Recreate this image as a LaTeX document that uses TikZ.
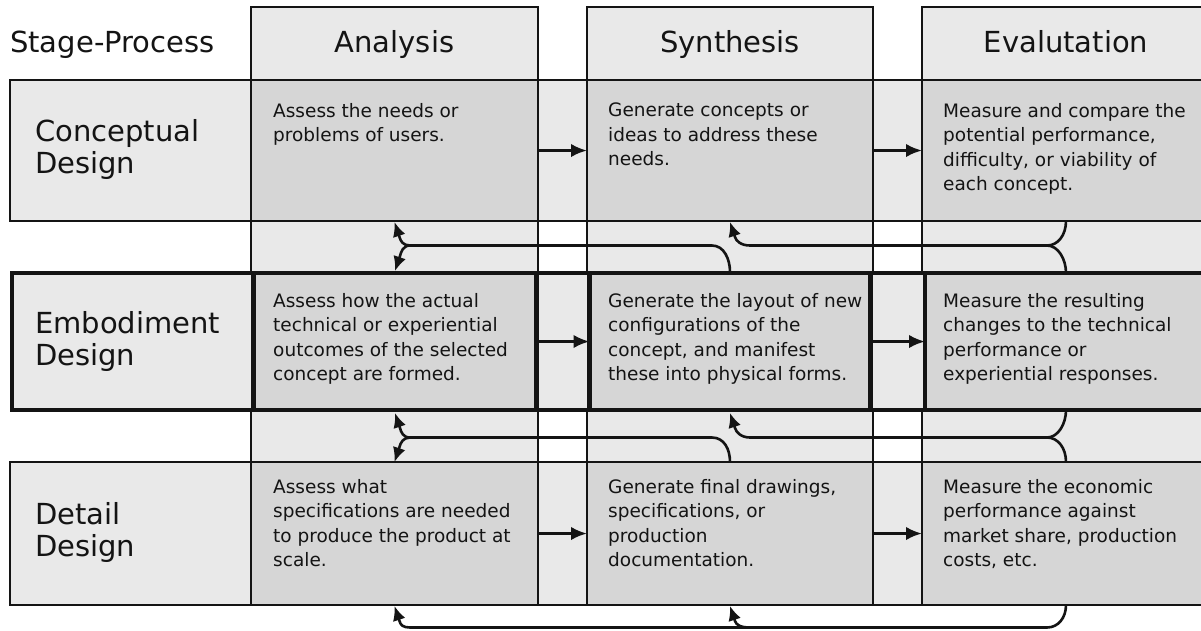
\documentclass[tikz,border=0pt]{standalone}
\usepackage{fontspec}
\setmainfont{DejaVu Sans}
\usetikzlibrary{arrows.meta,calc}
\definecolor{lg}{HTML}{E9E9E9}
\definecolor{cg}{HTML}{D6D6D6}
\definecolor{ink}{HTML}{141414}
\begin{document}
\begin{tikzpicture}[x=1pt,y=-1pt,
  thinline/.style={line width=1.5pt, draw=ink},
  colbox/.style={thinline, fill=lg, anchor=north west, inner sep=0, outer sep=0, minimum height=598},
  rowbox/.style={thinline, fill=lg, anchor=north west, inner sep=0, outer sep=0, minimum width=1200},
  cellbox/.style={thinline, fill=cg, anchor=north west, inner sep=0, outer sep=0},
  celltext/.style={anchor=north west, inner sep=0, align=left, text=ink, font=\fontsize{18.5}{24.5}\selectfont},
  head/.style={inner sep=0, text=ink, font=\fontsize{29}{32}\selectfont},
  flow/.style={line width=2.8pt, draw=ink, -{Latex[length=16pt,width=13.5pt]}},
  flowc/.style={line width=2.6pt, draw=ink, line join=round, -{Latex[length=14.5pt,width=13pt]}},
  link/.style={line width=2.6pt, draw=ink},
]
\useasboundingbox (0,0) rectangle (1201,630);
\clip (0,0) rectangle (1201,630);
\fill[white] (0,0) rectangle (1201,630);

% columns
\node[colbox, minimum width=287] (colA) at (251,7) {};
\node[colbox, minimum width=286] (colS) at (587,7) {};
\node[colbox, minimum width=288] (colE) at (922,7) {};

% headers
\node[head, anchor=base west] (hSP) at (10,52.5) {Stage-Process};
\node[head, anchor=base] (hA) at ($(colA.north)+(0,45.5)$) {Analysis};
\node[head, anchor=base] (hS) at ($(colS.north)+(0,45.5)$) {Synthesis};
\node[head, anchor=base] (hE) at ($(colE.north)+(0,45.5)$) {Evalutation};

% rows
\node[rowbox, minimum height=141] (r1) at (10,80) {};
\node[rowbox, line width=4.5pt, minimum height=137] (r2) at (12,273) {};
\node[rowbox, minimum height=143] (r3) at (10,462) {};

% cells
\node[cellbox, minimum width=287, minimum height=141] (a1) at (251,80) {};
\node[cellbox, minimum width=286, minimum height=141] (s1) at (587,80) {};
\node[cellbox, minimum width=288, minimum height=141] (e1) at (922,80) {};
\node[cellbox, line width=4.5pt, minimum width=283, minimum height=137] (a2) at (253.5,273) {};
\node[cellbox, line width=4.5pt, minimum width=281, minimum height=137] (s2) at (589.5,273) {};
\node[cellbox, line width=4.5pt, minimum width=282.5, minimum height=137] (e2) at (925,273) {};
\node[cellbox, minimum width=287, minimum height=143] (a3) at (251,462) {};
\node[cellbox, minimum width=286, minimum height=143] (s3) at (587,462) {};
\node[cellbox, minimum width=288, minimum height=143] (e3) at (922,462) {};

% row labels
\node[head, anchor=west, align=left] (l1) at (35,149.5) {Conceptual\\Design};
\node[head, anchor=west, align=left] (l2) at (35,341.5) {Embodiment\\Design};
\node[head, anchor=west, align=left] (l3) at (35,532.5) {Detail\\Design};

% cell texts
\node[celltext] (ta1) at (273,103) {Assess the needs or\\problems of users.};
\node[celltext] (ts1) at (608,103) {Generate concepts or\\ideas to address these\\needs.};
\node[celltext] (te1) at (943,103) {Measure and compare the\\potential performance,\\difficulty, or viability of\\each concept.};
\node[celltext] (ta2) at (273,293) {Assess how the actual\\technical or experiential\\outcomes of the selected\\concept are formed.};
\node[celltext] (ts2) at (608,293) {Generate the layout of new\\configurations of the\\concept, and manifest\\these into physical forms.};
\node[celltext] (te2) at (943,293) {Measure the resulting\\changes to the technical\\performance or\\experiential responses.};
\node[celltext] (ta3) at (273,479) {Assess what\\specifications are needed\\to produce the product at\\scale.};
\node[celltext] (ts3) at (608,479) {Generate final drawings,\\specifications, or\\production\\documentation.};
\node[celltext] (te3) at (943,479) {Measure the economic\\performance against\\market share, production\\costs, etc.};

% forward arrows
\draw[flow] (a1.east) -- (s1.west);
\draw[flow] (s1.east) -- (e1.west);
\draw[flow] (a2.east) -- (s2.west);
\draw[flow] (s2.east) -- (e2.west);
\draw[flow] (a3.east) -- (s3.west);
\draw[flow] (s3.east) -- (e3.west);

% feedback, gap 1
\coordinate (m1e) at (1047,245.5);
\coordinate (m1s) at (750,245.5);
\coordinate (m1t) at (712,245.5);
\coordinate (m1a) at (410,245.5);
\draw[link] (e1.south) .. controls +(0,14) and +(11,0) .. (m1e) -- (m1s);
\draw[flowc] (m1s) .. controls +(-9,0) and +(1,4) .. ($(s1.south)+(5,16)$) -- ($(s1.south)+(0,1)$);
\draw[link] (colE |- e2.north) .. controls +(0,-14) and +(11,0) .. (m1e);
\draw[link] ($(s2.north)+(0,-1)$) .. controls +(0,-13) and +(12,0) .. (m1t) -- (m1a);
\draw[flowc] (m1a) .. controls +(-7,0) and +(1,4) .. ($(a1.south)+(5,16)$) -- ($(a1.south)+(0,1)$);
\draw[flowc] (m1a) .. controls +(-7,0) and +(1,-4) .. ($(a2.north)+(5,-17)$) -- ($(a2.north)+(0,-2)$);

% feedback, gap 2
\coordinate (m2e) at (1047,437.5);
\coordinate (m2s) at (750,437.5);
\coordinate (m2t) at (712,437.5);
\coordinate (m2a) at (410,437.5);
\draw[link] (colE |- e2.south) .. controls +(0,14) and +(11,0) .. (m2e) -- (m2s);
\draw[flowc] (m2s) .. controls +(-9,0) and +(1,4) .. ($(s2.south)+(5,18)$) -- ($(s2.south)+(0,3)$);
\draw[link] (e3.north) .. controls +(0,-14) and +(11,0) .. (m2e);
\draw[link] (s3.north) .. controls +(0,-13) and +(12,0) .. (m2t) -- (m2a);
\draw[flowc] (m2a) .. controls +(-7,0) and +(1,4) .. ($(a2.south)+(5,18)$) -- ($(a2.south)+(0,3)$);
\draw[flowc] (m2a) .. controls +(-7,0) and +(1,-4) .. ($(a3.north)+(5,-15)$) -- (a3.north);

% feedback, bottom
\coordinate (m3e) at (1047,627.5);
\coordinate (m3s) at (750,627.5);
\coordinate (m3a) at (410,627.5);
\draw[link] (e3.south) .. controls +(0,13) and +(11,0) .. (m3e) -- (m3a);
\draw[flowc] (m3s) .. controls +(-9,0) and +(1,4) .. ($(s3.south)+(5,16)$) -- ($(s3.south)+(0,1)$);
\draw[flowc] (m3a) .. controls +(-7,0) and +(1,4) .. ($(a3.south)+(5,16)$) -- ($(a3.south)+(0,1)$);
\end{tikzpicture}
\end{document}
